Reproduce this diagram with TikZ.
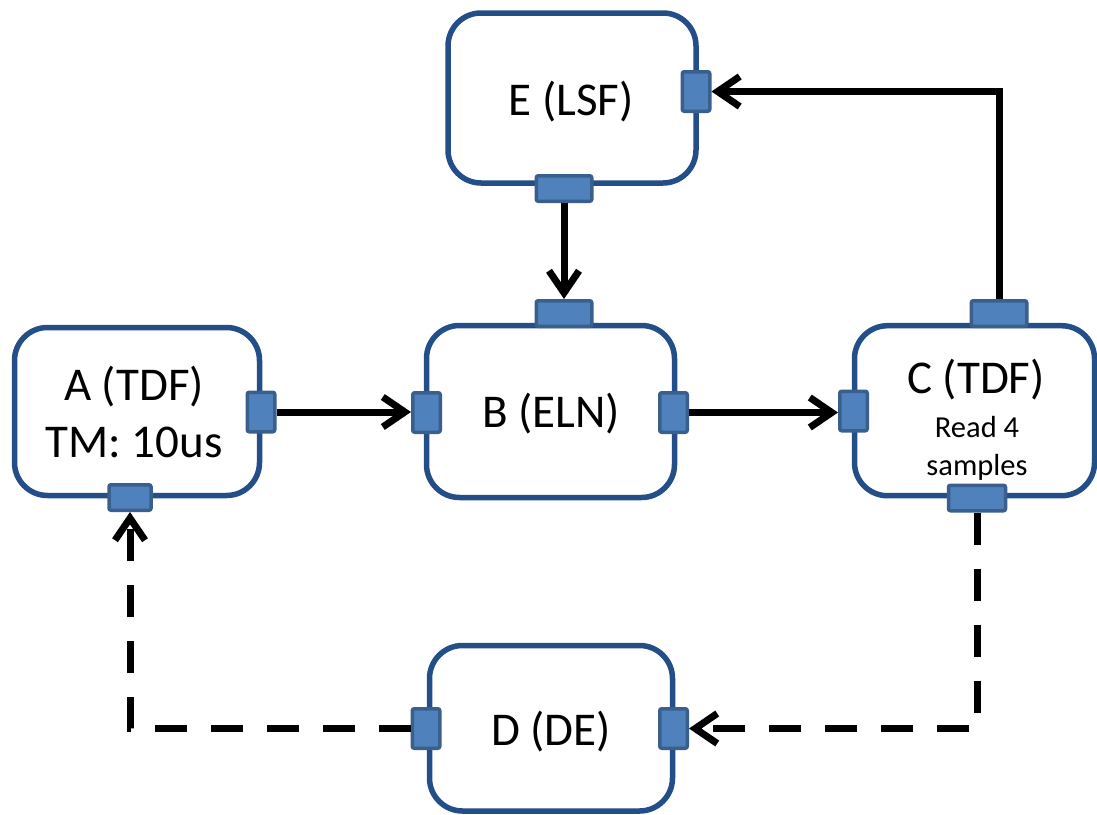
\documentclass[tikz,border=0pt]{standalone}
\usepackage{fontspec}
\setmainfont{Carlito}
\usetikzlibrary{arrows.meta}
\definecolor{boxblue}{RGB}{35,78,135}
\definecolor{portfill}{RGB}{79,129,189}
\definecolor{portline}{RGB}{58,95,140}
\begin{document}
\begin{tikzpicture}[x=1pt,y=-1pt,
  blk/.style={draw=boxblue, line width=5.5pt, rounded corners=33pt, fill=white, inner sep=0pt},
  vport/.style={draw=portline, fill=portfill, line width=3.5pt, rounded corners=2pt, inner sep=0pt, minimum width=27.5pt, minimum height=39.5pt},
  hport/.style={draw=portline, fill=portfill, line width=3.5pt, rounded corners=2pt, inner sep=0pt, minimum width=55.5pt, minimum height=25.5pt},
  conn/.style={draw=black, line width=7pt, -{Straight Barb[length=22pt,width=30pt]}},
  dconn/.style={conn, dash pattern=on 32pt off 24pt},
  lbl/.style={font=\fontsize{47}{57}\selectfont, inner sep=0pt, anchor=base},
  sml/.style={font=\fontsize{30.5}{37}\selectfont, inner sep=0pt, anchor=base}]
\useasboundingbox (0,0) rectangle (1097,814);
% boxes
\node[blk, minimum width=245pt, minimum height=168pt] (A) at (137,411.5) {};
\node[blk, minimum width=248pt, minimum height=172pt] (B) at (550.5,411.5) {};
\node[blk, minimum width=240pt, minimum height=170pt] (C) at (974.5,410.7) {};
\node[blk, minimum width=243pt, minimum height=165.5pt] (D) at (551,728.25) {};
\node[blk, minimum width=248pt, minimum height=170pt] (E) at (572,98) {};
% labels
\node[lbl] (tA1) at (134,400) {A (TDF)};
\node[lbl] (tA2) at (134,457) {TM: 10us};
\node[lbl] (tB) at (551,427) {B (ELN)};
\node[lbl] (tC) at (976,393) {C (TDF)};
\node[sml] (tC2) at (977,437) {Read 4};
\node[sml] (tC3) at (977,475) {samples};
\node[lbl] (tD) at (551,745) {D (DE)};
\node[lbl] (tE) at (571,115) {E (LSF)};
% ports
\node[vport] (Er) at (696,91.5) {};
\node[hport] (Eb) at (564,188.5) {};
\node[hport] (Bt) at (564,313.5) {};
\node[vport] (Bl) at (426.5,412.5) {};
\node[vport] (Br) at (673.5,412.5) {};
\node[vport] (Ar) at (261,412) {};
\node[hport, minimum width=42pt] (Ab) at (130,497.5) {};
\node[vport] (Cl) at (853.5,411) {};
\node[hport] (Ct) at (999,313.5) {};
\node[hport, minimum width=57pt] (Cb) at (977,498) {};
\node[vport] (Dl) at (426,728.5) {};
\node[vport] (Dr) at (673.5,728.5) {};
% connectors
\draw[conn] (Ar.east) -- (Ar.east -| Bl.west);
\draw[conn] (Br.east) -- (Br.east -| Cl.west);
\draw[conn] (Eb.south) -- (Bt.north);
\draw[conn] (Ct.north) |- (Er.east);
\draw[dconn] (Cb.south) |- (Dr.east);
\draw[dconn] (Dl.west) -| (Ab.south);
\end{tikzpicture}
\end{document}
